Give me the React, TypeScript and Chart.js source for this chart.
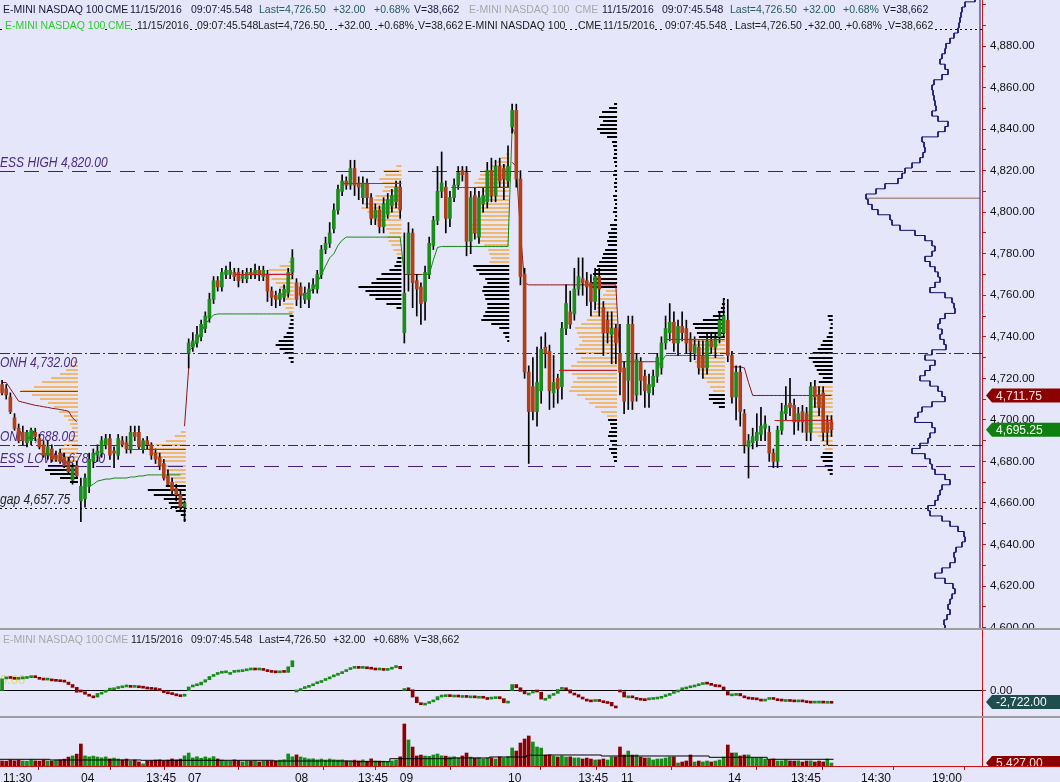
import React, { useEffect, useRef } from "react";
import { Chart, registerables } from "chart.js";

Chart.register(...registerables);

// ---------------- DATA ----------------
// candles per session: [open, high, low, close]
const day03 = [
  [4717, 4719, 4712, 4713], [4715, 4717, 4710, 4712], [4711, 4713, 4703, 4704], [4701, 4703, 4695, 4696],
  [4696, 4698, 4689, 4690], [4694, 4697, 4688, 4690], [4689, 4695, 4687, 4694], [4690, 4696, 4688, 4695],
  [4694, 4696, 4690, 4692], [4691, 4693, 4686, 4687], [4688, 4690, 4682, 4683], [4683, 4690, 4681, 4687],
  [4686, 4688, 4680, 4681], [4683, 4685, 4680, 4681], [4684, 4686, 4679, 4680], [4682, 4684, 4677, 4678],
  [4680, 4682, 4674, 4675], [4671, 4679, 4669, 4677], [4678, 4680, 4672, 4673],
];
const day04 = [
  [4661, 4672, 4651, 4668], [4662, 4674, 4658, 4672], [4668, 4684, 4665, 4681], [4680, 4686, 4677, 4684],
  [4683, 4688, 4680, 4685], [4684, 4692, 4682, 4690], [4688, 4693, 4686, 4691], [4691, 4693, 4681, 4683],
  [4685, 4687, 4677, 4684], [4683, 4693, 4681, 4691], [4690, 4692, 4687, 4688], [4689, 4692, 4684, 4686],
  [4686, 4697, 4684, 4694], [4694, 4697, 4690, 4692], [4694, 4697, 4686, 4687], [4686, 4691, 4684, 4690],
  [4690, 4692, 4686, 4688], [4688, 4689, 4681, 4683], [4684, 4686, 4679, 4681], [4682, 4684, 4676, 4678],
  [4679, 4681, 4671, 4672], [4673, 4676, 4668, 4669], [4670, 4672, 4664, 4666], [4667, 4669, 4661, 4664],
  [4664, 4666, 4656, 4658], [4658, 4661, 4651, 4660],
];
const day07 = [
  [4732, 4739, 4725, 4737], [4735, 4742, 4733, 4738], [4737, 4745, 4735, 4741], [4740, 4748, 4738, 4746],
  [4744, 4752, 4742, 4750], [4749, 4761, 4747, 4758], [4758, 4769, 4756, 4767], [4767, 4769, 4762, 4764],
  [4764, 4773, 4762, 4771], [4770, 4774, 4768, 4772], [4770, 4776, 4768, 4772], [4771, 4773, 4767, 4769],
  [4771, 4773, 4764, 4767], [4768, 4772, 4766, 4770], [4768, 4773, 4766, 4771], [4771, 4773, 4768, 4770],
  [4770, 4775, 4768, 4772], [4772, 4774, 4767, 4770], [4769, 4774, 4767, 4772], [4770, 4772, 4757, 4762],
  [4762, 4764, 4755, 4759], [4760, 4762, 4754, 4758], [4758, 4763, 4755, 4761], [4759, 4765, 4757, 4763],
  [4761, 4773, 4759, 4771], [4771, 4782, 4768, 4778],
];
const day08 = [
  [4766, 4768, 4755, 4758], [4764, 4766, 4754, 4760], [4758, 4764, 4756, 4761], [4758, 4766, 4754, 4763],
  [4763, 4768, 4761, 4765], [4763, 4772, 4761, 4770], [4770, 4784, 4768, 4782], [4782, 4788, 4780, 4785],
  [4785, 4795, 4783, 4790], [4792, 4804, 4790, 4801], [4801, 4813, 4799, 4811], [4810, 4818, 4808, 4815],
  [4815, 4817, 4811, 4813], [4813, 4825, 4811, 4821], [4821, 4825, 4808, 4813], [4814, 4817, 4806, 4812],
  [4807, 4817, 4804, 4814], [4814, 4816, 4802, 4807], [4807, 4809, 4794, 4797], [4797, 4804, 4794, 4801],
  [4801, 4803, 4790, 4793], [4793, 4807, 4790, 4804], [4799, 4809, 4797, 4806], [4803, 4811, 4800, 4808],
  [4805, 4815, 4802, 4812], [4812, 4815, 4797, 4801],
];
const day09 = [
  [4742, 4790, 4737, 4761], [4770, 4795, 4762, 4790], [4790, 4792, 4754, 4766], [4767, 4770, 4750, 4763],
  [4764, 4766, 4746, 4756], [4757, 4774, 4748, 4771], [4770, 4788, 4768, 4785], [4784, 4798, 4782, 4796],
  [4796, 4822, 4794, 4810], [4810, 4829, 4807, 4814], [4812, 4815, 4790, 4797], [4797, 4810, 4793, 4807],
  [4807, 4816, 4805, 4813], [4813, 4822, 4811, 4819], [4820, 4822, 4815, 4818], [4819, 4822, 4779, 4786],
  [4786, 4810, 4780, 4807], [4808, 4812, 4787, 4790], [4788, 4810, 4785, 4807], [4804, 4812, 4800, 4808],
  [4805, 4824, 4802, 4820], [4820, 4826, 4805, 4808], [4808, 4825, 4805, 4822], [4822, 4826, 4812, 4815],
  [4821, 4823, 4806, 4816], [4815, 4832, 4812, 4822],
];
const day10 = [
  [4841, 4852, 4838, 4849], [4849, 4852, 4812, 4816], [4816, 4820, 4765, 4769], [4770, 4773, 4720, 4723],
  [4723, 4726, 4679, 4704], [4716, 4730, 4700, 4704], [4704, 4735, 4697, 4718], [4714, 4740, 4708, 4734],
  [4735, 4742, 4725, 4732], [4733, 4736, 4705, 4714], [4713, 4731, 4706, 4718], [4720, 4722, 4708, 4715],
  [4716, 4747, 4710, 4744], [4744, 4765, 4741, 4756], [4752, 4762, 4744, 4746], [4751, 4773, 4748, 4763],
  [4763, 4778, 4760, 4769], [4768, 4778, 4760, 4766], [4767, 4771, 4755, 4764], [4766, 4770, 4750, 4757],
  [4757, 4773, 4753, 4769], [4769, 4773, 4750, 4763], [4754, 4757, 4731, 4742], [4748, 4752, 4737, 4742],
  [4741, 4752, 4727, 4744], [4744, 4746, 4727, 4737],
];
const day11 = [
  [4732, 4746, 4712, 4723], [4725, 4728, 4703, 4709], [4719, 4750, 4705, 4746], [4746, 4750, 4705, 4709],
  [4712, 4732, 4709, 4729], [4728, 4730, 4712, 4719], [4721, 4724, 4706, 4714], [4713, 4722, 4706, 4717],
  [4716, 4724, 4712, 4721], [4721, 4732, 4718, 4730], [4725, 4740, 4722, 4737], [4737, 4750, 4734, 4744],
  [4742, 4756, 4738, 4747], [4747, 4752, 4733, 4737], [4737, 4748, 4731, 4745], [4745, 4752, 4738, 4742],
  [4744, 4748, 4732, 4737], [4739, 4742, 4728, 4733], [4732, 4740, 4729, 4736], [4735, 4738, 4722, 4725],
  [4731, 4738, 4720, 4725], [4725, 4742, 4722, 4738], [4738, 4742, 4732, 4735], [4735, 4742, 4730, 4739],
  [4740, 4752, 4737, 4748], [4742, 4758, 4740, 4750],
];
const day14 = [
  [4748, 4758, 4728, 4731], [4731, 4733, 4708, 4711], [4711, 4726, 4700, 4723], [4723, 4726, 4697, 4704],
  [4703, 4705, 4684, 4688], [4687, 4693, 4672, 4690], [4689, 4696, 4686, 4692], [4690, 4703, 4687, 4694],
  [4693, 4706, 4690, 4697], [4696, 4702, 4690, 4698], [4694, 4697, 4680, 4684], [4684, 4686, 4677, 4680],
  [4680, 4697, 4677, 4695], [4695, 4708, 4693, 4704], [4703, 4716, 4700, 4707], [4708, 4720, 4702, 4706],
  [4707, 4710, 4693, 4699], [4699, 4706, 4695, 4703], [4704, 4707, 4694, 4699], [4703, 4706, 4690, 4694],
  [4694, 4718, 4690, 4716], [4716, 4719, 4706, 4711], [4712, 4716, 4702, 4706], [4713, 4716, 4690, 4694],
  [4699, 4702, 4688, 4694], [4699, 4702, 4692, 4695.25],
];

// red and green indicator lines per session (null = not drawn)
const red03 = [4718, 4718, 4715, 4712, 4709, 4708.5, 4708, 4707.5, 4707, 4706.7, 4706.3, 4706, 4705.6, 4705.3, 4705, 4704.6, 4704.2, 4701, 4699];
const red04 = [null, null, null, null, null, null, null, null, null, null, null, null, null, null, null, null, null, null, null, null, null, null, null, null, null, 4697];
const red07 = [4725, null, null, null, null, null, null, null, null, null, null, null, null, null, null, null, null, null, null, null, null, null, null, null, null, null];
const red08 = [null, null, null, null, null, null, null, null, null, null, null, null, null, null, null, null, null, null, null, null, null, null, null, null, null, null];
const red09 = [4770, 4770, 4770, 4770, 4770, null, null, null, null, null, null, null, null, null, null, null, null, null, null, null, null, null, null, null, null, null];
const red10 = [4824, 4822, 4790, 4766, 4765, 4765, 4765, 4765, 4765, 4765, 4765, 4765, 4765, 4765, 4765, 4765, 4765, 4765, 4765, 4765, 4765, 4765, 4765, 4765, 4765, 4765];
const red11 = [4728, 4728, 4728, 4728, 4728, 4728, 4728, 4728, 4728, 4728, null, null, null, null, null, null, null, null, null, null, null, null, null, null, null, null];
const red14 = [null, 4725.5, 4725.5, 4725.5, 4725, 4718, 4711.75, 4711.75, 4711.75, 4711.75, 4711.75, 4711.75, 4711.75, 4711.75, 4711.75, 4711.75, 4711.75, 4711.75, 4711.75, 4711.75, 4711.75, 4711.75, 4711.75, 4711.75, 4711.75, 4711.75];

const green03 = [null, null, null, null, null, null, null, null, null, null, null, null, null, null, null, null, null, null, null];
const green04 = [null, null, 4668, 4669, 4670.5, 4671, 4671.5, 4671.5, 4672, 4672, 4672, 4672, 4672.5, 4672.5, 4673, 4673, 4673.5, 4673.5, 4673.5, 4673.5, 4673.5, 4673.5, 4673.5, 4673.5, 4673.5, null];
const green07 = [4733, 4735, 4738, 4742, 4746, 4748.5, 4750.5, 4751, 4751, 4751, 4751, 4751, 4751, 4751, 4751, 4751, 4751, 4751, 4751, 4751, 4751, 4751, 4751, 4751, 4751, 4751];
const green08 = [null, 4760, 4760.5, 4761.5, 4763, 4766, 4770, 4774, 4778, 4780, 4784, 4786.5, 4788, 4788, 4788, 4788, 4788, 4788, 4788, 4788, 4788, 4788, 4788, 4788, 4788, 4788];
const green09 = [4770, 4770, 4770, 4770, 4770, 4770, 4770, 4777, 4783, 4783.5, 4783.5, 4783.5, 4783.5, 4783.5, 4783.5, 4783.5, 4783.5, 4783.5, 4783.5, 4783.5, 4783.5, 4783.5, 4783.5, 4783.5, 4783.5, 4783.5];
const green10 = [4841, 4836, null, null, null, null, null, null, null, null, null, null, null, null, null, null, null, null, null, null, null, null, null, null, null, null];
const green11 = [null, null, null, null, null, null, null, null, null, 4725.5, 4728, 4731, 4731, 4731, 4731, 4731, 4731, 4731, 4731, 4731, 4731, 4731, 4731, 4731, 4731, 4731];
const green14 = [null, null, null, null, null, null, null, null, null, null, null, null, null, null, null, null, null, null, null, null, null, null, null, null, null, null];

// cumulative delta (middle panel), per session closes
const osc03 = [3000, 3200, 3100, 2900, 3000, 3100, 3300, 3500, 3300, 2900, 2700, 2800, 2500, 2400, 2300, 2200, 1600, 900, -300];
const osc04 = [-200, -800, -1200, -1500, -600, -300, 200, 300, 600, 800, 1000, 1100, 900, 1000, 800, 700, 500, 400, 300, 100, -200, -400, -700, -900, -1100, -800];
const osc07 = [1000, 1300, 1500, 2200, 2800, 3600, 4100, 4400, 4500, 4600, 4600, 4700, 4800, 5000, 5200, 5300, 5200, 5300, 5100, 4800, 4600, 4500, 4700, 4600, 6000, 7500];
const osc08 = [100, 600, 900, 1300, 1800, 2100, 2600, 3000, 3500, 3900, 4300, 4800, 5300, 5600, 5700, 5600, 5800, 5500, 5400, 5200, 5300, 5100, 5400, 5800, 6100, 5500];
const osc09 = [600, 300, -1500, -2900, -3400, -3000, -2600, -2200, -1400, -1000, -900, -1100, -1000, -1200, -1100, -1300, -1200, -1400, -1300, -1600, -1700, -1500, -1400, -1900, -2900, -2500];
const osc10 = [1600, 800, -100, -700, -500, 0, -300, -2000, -1800, -1000, -600, 400, 600, 300, -500, -900, -1500, -2000, -2200, -2300, -2100, -2400, -2600, -2800, -3700, -4200];
const osc11 = [-200, -1500, -1200, -1600, -1800, -1900, -2000, -1700, -1600, -1500, -1300, -900, -600, 0, 300, 500, 800, 1000, 1300, 1600, 2000, 1700, 1400, 1100, 1000, 300];
const osc14 = [-1000, -700, -600, -1200, -1500, -1600, -1700, -2000, -2300, -2000, -1600, -1900, -2000, -2200, -2100, -2200, -2300, -2200, -2400, -2500, -2600, -2500, -2500, -2600, -2550, -2722];

// volume per bar
const vol03 = [9100, 8800, 10800, 9400, 10500, 9000, 8700, 11200, 9300, 8900, 10600, 9200, 8800, 10900, 11300, 12400, 16100, 18300, 21500];
const vol04 = [39800, 18300, 16600, 17900, 16200, 14800, 16400, 12900, 14300, 12700, 10900, 12600, 9200, 10800, 7400, 3900, 8900, 9300, 10800, 11200, 9100, 10700, 12800, 11100, 12500, 18400];
const vol07 = [23500, 14600, 16800, 14100, 16500, 14300, 16900, 12800, 10900, 9200, 8800, 11100, 9400, 7600, 9000, 8700, 9300, 7400, 8900, 9100, 8600, 9200, 10700, 11400, 21800, 16700];
const vol08 = [20100, 16400, 14700, 12800, 13100, 11200, 12600, 10900, 12700, 11300, 10800, 11100, 9200, 8900, 10600, 9300, 11000, 8800, 12900, 9400, 9000, 8700, 7600, 9100, 10800, 16600];
const vol09 = [76000, 47100, 34300, 18200, 19800, 18100, 17600, 19900, 21700, 18400, 17900, 16300, 16700, 14600, 18100, 23500, 16200, 14400, 14900, 12700, 14300, 14800, 12600, 16400, 14500, 16800];
const vol10 = [32600, 27100, 41600, 48800, 54300, 43400, 34400, 32500, 19900, 20100, 18100, 16300, 18400, 16200, 16600, 14500, 14700, 12700, 14400, 12600, 10900, 11200, 12700, 10800, 16300, 16500];
const vol11 = [34400, 19900, 27100, 19800, 20100, 16300, 14500, 14700, 10900, 12600, 12800, 14400, 16300, 16500, 5400, 7300, 9100, 19900, 7200, 9000, 7400, 9100, 7300, 8900, 10900, 16300];
const vol14 = [38000, 23500, 23700, 18100, 19900, 20000, 14500, 14400, 14700, 12600, 10900, 12800, 9000, 9200, 10800, 9100, 8900, 9300, 7200, 9000, 9200, 7300, 8900, 7400, 12700, 5427];

// volume moving-average steps: start bar and value
const volAvgStart = [0, 12, 34, 66, 85, 94, 109, 118, 127, 132, 145, 171, 185];
const volAvgValue = [12100, 10900, 10300, 9000, 7800, 13200, 14500, 16300, 19400, 19900, 18100, 15700, 12100];

// session volume profiles (2-point buckets from `low`)
const prof03 = [8, 18, 28, 33, 30, 26, 22, 20, 17, 14, 10, 7, 5, 6, 8, 10, 14, 19, 24, 30, 38, 46, 57, 44, 36, 27, 18, 12, 8, 4];
const prof04 = [2, 5, 10, 15, 17, 22, 32, 38, 20, 11, 15, 18, 21, 28, 26, 30, 35, 40, 30, 20, 11, 5];
const prof07 = [3, 5, 9, 14, 18, 15, 10, 7, 5, 4, 3, 4, 5, 8, 11, 9, 12, 11, 14, 18, 22, 28, 25, 14, 5];
const prof08 = [5, 15, 26, 32, 36, 43, 30, 25, 20, 12, 7, 5, 4, 5, 8, 10, 13, 14, 12, 15, 20, 26, 29, 34, 40, 37, 27, 26, 19, 17, 19, 22, 16, 18, 5];
const prof09 = [2, 4, 6, 10, 18, 28, 26, 24, 22, 22, 24, 25, 27, 26, 22, 24, 30, 33, 36, 20, 18, 20, 21, 25, 30, 33, 37, 40, 38, 35, 32, 28, 30, 29, 26, 24, 27, 32, 35, 31, 29, 25, 18, 12, 8, 3];
const prof10 = [3, 4, 6, 8, 5, 7, 9, 8, 6, 7, 9,
  10, 16, 22, 28, 32, 40, 48, 46, 44, 40, 45, 57, 46, 40, 36, 40, 42, 38, 35, 38, 40, 42, 36, 30, 27, 24, 20, 22, 18, 14, 11,
  25, 27, 24, 24, 22, 20, 18, 15, 14, 12, 9, 10, 8, 9, 6, 7,
  3, 2, 4, 3, 2, 3, 4, 2, 3, 3, 2, 4, 3, 2, 3, 4, 3,
  3, 4, 5, 10, 17, 20, 17, 14, 18, 15, 8, 3];
const prof11 = [6, 12, 16, 16, 12, 15, 18, 21, 24, 26, 28, 30, 26, 27, 31, 35, 36, 26, 28, 30, 32, 22, 12, 7, 4, 3, 2];
const prof14 = [3, 5, 8, 10, 12, 10, 8, 10, 12, 15, 20, 24, 27, 31, 28, 26, 23, 18, 22, 18, 20, 16, 14, 10, 14, 16, 18, 20, 24, 20, 15, 12, 10, 6, 4, 3, 2, 4, 5];
const profLow = [4670, 4652, 4728, 4754, 4738, 4680, 4706, 4674];
const profVaLow = [4680, 4670, 4752, 4780, 4776, 4702, 4714, 4686];
const profVaHigh = [4728, 4694, 4776, 4822, 4828, 4762, 4738, 4716];
const profPoc = [4714, 4686, 4770, 4814, 4812, 4724, 4739, 4700];

// composite profile at the right edge (2.5-point buckets from the top)
const compositeTop = 4902.5;
const compositeVols = [
  5, 15, 18, 19, 20, 21, 22, 26, 30, 34,
  35, 38, 40, 35, 32, 38, 46, 48, 47, 46,
  45, 44, 48, 42, 32, 35, 42, 58, 56, 55,
  57, 60, 68, 75, 78, 82, 95, 104, 114, 112,
  108, 102, 90, 88, 80, 65, 55, 48, 45, 48,
  55, 50, 45, 42, 40, 45, 50, 35, 28, 26,
  25, 35, 40, 42, 38, 40, 36, 34, 48, 55,
  45, 50, 55, 60, 50, 42, 38, 35, 48, 58,
  62, 65, 48, 45, 50, 52, 60, 68, 55, 50,
  48, 45, 35, 30, 38, 40, 42, 45, 52, 50,
  38, 30, 22, 16, 15, 18, 24, 26, 25, 30,
  38, 45, 35, 27, 25, 28, 30, 32, 30, 33,
  36, 35,
];
const compositePoc = 4806.75;

// horizontal reference levels
const levelNames = ["", "ESS HIGH 4,820.00", "ONH 4,732.00", "ONL 4,688.00", "ESS LOW 4,678.00", "gap 4,657.75"];
const levelPrices = [4888.25, 4820, 4732, 4688, 4678, 4657.75];

// x-axis ticks (bar-index positions) and labels
const xTickValues = [-0.5, 18.3, 34, 44.1, 69.9, 85.1, 95.2, 121.3, 138.2, 148.5, 174.3, 189.5, 206.4, 223.5];
const xTickLabels = ["11:30", "04", "13:45", "07", "08", "13:45", "09", "10", "13:45", "11", "14", "13:45", "14:30", "19:00"];

// ---------------- STYLE / LAYOUT ----------------
const W = 1060;
const AXIS_W = 78;
const BG = "#E6E6FA";
const FONT = '"Liberation Sans", Arial, sans-serif';
const X_MIN = -0.5;
const X_MAX = 236.3;
const MAIN_H = 628, MAIN_MIN = 4599.8, MAIN_MAX = 4902.15;
const OSC_TOP = 630, OSC_H = 86, OSC_MIN = -6190, OSC_MAX = 15100;
const VOL_TOP = 718, VOL_H = 64, VOL_MAX = 86830;
const AXIS_RED = "#D01010";
const C_UP = "#1C8C1C", C_DN = "#B0401A";
const C_UP2 = "#178C17", C_DN2 = "#8B0000";
const TAN = "#EFB86E";
const PROFILE_STEP = 2;
const PROFILE_BARS_PER_UNIT = 0.241;
const COMPOSITE_STEP = 2.5;
const LEVEL_STYLE = [
  { dash: [2, 3], color: "#000", text: "#000", dy: -4 },
  { dash: [15, 9], color: "#3F1F7A", text: "#4A2A86", dy: -5 },
  { dash: [10, 3, 2, 3], color: "#3F1F7A", text: "#4A2A86", dy: 13 },
  { dash: [10, 3, 2, 3], color: "#3F1F7A", text: "#4A2A86", dy: -5 },
  { dash: [15, 9], color: "#3F1F7A", text: "#4A2A86", dy: -4 },
  { dash: [2, 3], color: "#000", text: "#222", dy: -5 },
];

// ---------------- DERIVED ----------------
const sessions = [day03, day04, day07, day08, day09, day10, day11, day14];
const candles = sessions.flat();
const sessionEnds: number[] = [];
{
  let acc = 0;
  sessions.forEach((s) => { acc += s.length; sessionEnds.push(acc - 1); });
}
const redLine = [red03, red04, red07, red08, red09, red10, red11, red14].flat();
const greenLine = [green03, green04, green07, green08, green09, green10, green11, green14].flat();
const oscSessions = [osc03, osc04, osc07, osc08, osc09, osc10, osc11, osc14];
const volumes = [vol03, vol04, vol07, vol08, vol09, vol10, vol11, vol14].flat();
const profiles = [prof03, prof04, prof07, prof08, prof09, prof10, prof11, prof14];

const fmt = (v: number) => v.toLocaleString("en-US", { minimumFractionDigits: 2, maximumFractionDigits: 2 });

function drawBox(ctx: CanvasRenderingContext2D, x0: number, yc: number, text: string, fill: string, color: string) {
  const h = 14, tip = 6;
  ctx.save();
  ctx.fillStyle = fill;
  ctx.beginPath();
  ctx.moveTo(x0, yc);
  ctx.lineTo(x0 + tip, yc - h / 2);
  ctx.lineTo(W, yc - h / 2);
  ctx.lineTo(W, yc + h / 2);
  ctx.lineTo(x0 + tip, yc + h / 2);
  ctx.closePath();
  ctx.fill();
  ctx.fillStyle = color;
  ctx.font = `12px ${FONT}`;
  ctx.textBaseline = "middle";
  ctx.textAlign = "left";
  ctx.fillText(text, x0 + tip + 4, yc + 1);
  ctx.restore();
}

const baseOptions = {
  responsive: false,
  maintainAspectRatio: false,
  animation: false,
  events: [],
  layout: { padding: 0 },
  plugins: { legend: { display: false }, tooltip: { enabled: false } },
};

const hiddenX = { type: "linear", min: X_MIN, max: X_MAX, display: false, offset: false };

const fitY = (s: any) => { s.width = AXIS_W; s.paddingTop = 0; s.paddingBottom = 0; };

// ---------------- MAIN PANEL ----------------
function buildMain() {
  const outline: { x: number; y: number }[] = [];
  compositeVols.forEach((v, i) => {
    const p = compositeTop - i * COMPOSITE_STEP;
    outline.push({ x: v, y: p + COMPOSITE_STEP / 2 }, { x: v, y: p - COMPOSITE_STEP / 2 });
  });
  const pocLen = Math.max(...compositeVols);

  const plugin = {
    id: "mainDecor",
    beforeDatasetsDraw(chart: any) {
      const { ctx, chartArea: a, scales } = chart;
      const x = scales.x, y = scales.y;
      ctx.save();
      ctx.beginPath();
      ctx.rect(a.left, a.top, a.right - a.left, a.bottom - a.top);
      ctx.clip();
      profiles.forEach((vals, k) => {
        const anchor = sessionEnds[k] + 0.3;
        const xr = x.getPixelForValue(anchor);
        vals.forEach((v, i) => {
          const p = profLow[k] + i * PROFILE_STEP;
          const xl = x.getPixelForValue(anchor - v * PROFILE_BARS_PER_UNIT);
          const py = Math.round(y.getPixelForValue(p));
          ctx.fillStyle = p >= profVaLow[k] && p <= profVaHigh[k] ? TAN : "#000";
          ctx.fillRect(xl, py - 1, xr - xl, 2);
        });
      });
      levelPrices.forEach((p, k) => {
        const st = LEVEL_STYLE[k];
        const py = Math.round(y.getPixelForValue(p)) + 0.5;
        ctx.setLineDash(st.dash);
        ctx.strokeStyle = st.color;
        ctx.lineWidth = 1;
        ctx.beginPath();
        ctx.moveTo(a.left, py);
        ctx.lineTo(a.right, py);
        ctx.stroke();
        ctx.setLineDash([]);
        if (levelNames[k]) {
          ctx.save();
          ctx.font = `italic 14px ${FONT}`;
          ctx.fillStyle = st.text;
          ctx.textBaseline = "alphabetic";
          ctx.scale(0.86, 1);
          ctx.fillText(levelNames[k], 0, py + st.dy);
          ctx.restore();
        }
      });
      ctx.restore();
    },
    afterDatasetsDraw(chart: any) {
      const { ctx, chartArea: a, scales } = chart;
      const x = scales.x, y = scales.y;
      ctx.save();
      ctx.beginPath();
      ctx.rect(a.left, a.top, a.right - a.left, a.bottom - a.top);
      ctx.clip();
      ctx.strokeStyle = "#C8201E";
      ctx.lineWidth = 1;
      profPoc.forEach((p, k) => {
        const anchor = sessionEnds[k] + 0.3;
        const py = Math.round(y.getPixelForValue(p)) + 0.5;
        ctx.beginPath();
        ctx.moveTo(x.getPixelForValue(anchor - 14), py);
        ctx.lineTo(x.getPixelForValue(anchor), py);
        ctx.stroke();
      });
      ctx.restore();
    },
    afterDraw(chart: any) {
      const { ctx, chartArea: a, scales } = chart;
      const y = scales.y;
      const lastRed = redLine.filter((v) => v !== null).slice(-1)[0] as number;
      const lastClose = candles[candles.length - 1][3];
      drawBox(ctx, a.right + 4, y.getPixelForValue(lastRed), fmt(lastRed), "#8B0000", "#FFE4E4");
      drawBox(ctx, a.right + 4, y.getPixelForValue(lastClose), fmt(lastClose), "#0F7F0F", "#FFFFFF");
    },
  };

  return {
    type: "bar",
    data: {
      datasets: [
        {
          type: "line", data: redLine.map((v, i) => ({ x: i, y: v })), borderColor: "#8B1414", borderWidth: 1,
          pointRadius: 0, spanGaps: false, order: 5, xAxisID: "x", yAxisID: "y",
        },
        {
          type: "line", data: greenLine.map((v, i) => ({ x: i, y: v })), borderColor: "#118811", borderWidth: 1,
          pointRadius: 0, spanGaps: false, order: 5, xAxisID: "x", yAxisID: "y",
        },
        {
          type: "bar", data: candles.map((c, i) => ({ x: i, y: [c[2], c[1]] })), backgroundColor: "#000",
          barThickness: 1, grouped: false, order: 3, xAxisID: "x", yAxisID: "y",
        },
        {
          type: "bar", data: candles.map((c, i) => ({ x: i, y: [c[0], c[3]] })),
          backgroundColor: candles.map((c) => (c[3] >= c[0] ? C_UP : C_DN)),
          barThickness: 3, grouped: false, minBarLength: 1, order: 2, xAxisID: "x", yAxisID: "y",
        },
        {
          type: "line", data: outline, borderColor: "#101070", borderWidth: 1, pointRadius: 0, order: 4,
          xAxisID: "xp", yAxisID: "y",
        },
        {
          type: "line", data: [{ x: 0, y: MAIN_MIN }, { x: 0, y: MAIN_MAX }], borderColor: "#101070", borderWidth: 1,
          pointRadius: 0, order: 4, xAxisID: "xp", yAxisID: "y",
        },
        {
          type: "line", data: [{ x: 0, y: compositePoc }, { x: pocLen, y: compositePoc }], borderColor: "#A89088",
          borderWidth: 1.5, pointRadius: 0, order: 4, xAxisID: "xp", yAxisID: "y",
        },
      ],
    },
    options: {
      ...baseOptions,
      scales: {
        x: hiddenX,
        xp: { type: "linear", min: -2, max: 980, reverse: true, display: false, offset: false },
        y: {
          type: "linear", position: "right", min: MAIN_MIN, max: MAIN_MAX,
          afterFit: fitY,
          ticks: {
            stepSize: 10, includeBounds: false, autoSkip: false, padding: 4, color: "#111",
            font: { family: FONT, size: 11.5 },
            callback: (v: number) => (v % 20 === 0 && v <= 4880 ? fmt(v) : ""),
          },
          grid: { drawOnChartArea: false, drawTicks: true, tickLength: 4, color: AXIS_RED, tickColor: AXIS_RED },
          border: { color: AXIS_RED, width: 1 },
        },
      },
    },
    plugins: [plugin],
  };
}

// ---------------- OSCILLATOR PANEL ----------------
function buildOsc() {
  const data: { x: number; y: number[] }[] = [];
  const colors: string[] = [];
  let i = 0;
  oscSessions.forEach((s) => {
    s.forEach((v, j) => {
      const open = j === 0 ? 0 : s[j - 1];
      data.push({ x: i, y: [open, v] });
      colors.push(v >= open ? C_UP2 : C_DN2);
      i++;
    });
  });
  const lastOsc = oscSessions[oscSessions.length - 1].slice(-1)[0];
  const plugin = {
    id: "oscDecor",
    beforeDatasetsDraw(chart: any) {
      const { ctx, scales } = chart;
      ctx.save();
      ctx.font = `13px ${FONT}`;
      ctx.fillStyle = "#E2DC50";
      ctx.textBaseline = "middle";
      ctx.fillText("0.00", 0, scales.y.getPixelForValue(2700));
      ctx.restore();
    },
    afterDraw(chart: any) {
      const { ctx, chartArea: a, scales } = chart;
      drawBox(ctx, a.right + 4, scales.y.getPixelForValue(lastOsc), fmt(lastOsc), "#1F4E4E", "#FFFFFF");
    },
  };
  return {
    type: "bar",
    data: {
      datasets: [{ data, backgroundColor: colors, barThickness: 3, grouped: false, minBarLength: 2 }],
    },
    options: {
      ...baseOptions,
      scales: {
        x: hiddenX,
        y: {
          type: "linear", position: "right", min: OSC_MIN, max: OSC_MAX,
          afterFit: fitY,
          afterBuildTicks: (s: any) => { s.ticks = [{ value: 0 }]; },
          ticks: { padding: 4, color: "#111", font: { family: FONT, size: 11.5 }, callback: (v: number) => fmt(v) },
          grid: { drawOnChartArea: true, drawTicks: true, tickLength: 4, color: "#000", tickColor: AXIS_RED },
          border: { color: AXIS_RED, width: 1 },
        },
      },
    },
    plugins: [plugin],
  };
}

// ---------------- VOLUME PANEL ----------------
function buildVol() {
  const colors = volumes.map((_, i) => {
    const c = candles[i][3];
    const prev = i === 0 ? candles[0][0] : candles[i - 1][3];
    return c >= prev ? C_UP2 : C_DN2;
  });
  const avgPts = volAvgStart.map((s, k) => ({ x: s - 0.5, y: volAvgValue[k] }));
  avgPts.push({ x: volumes.length - 0.5, y: volAvgValue[volAvgValue.length - 1] });
  const lastVol = volumes[volumes.length - 1];
  const plugin = {
    id: "volDecor",
    afterDraw(chart: any) {
      const { ctx, chartArea: a, scales } = chart;
      ctx.save();
      ctx.beginPath();
      ctx.rect(0, 0, W, a.bottom);
      ctx.clip();
      drawBox(ctx, a.right + 4, scales.y.getPixelForValue(lastVol), fmt(lastVol), "#8B0000", "#FFE4E4");
      ctx.restore();
      ctx.save();
      ctx.strokeStyle = AXIS_RED;
      ctx.lineWidth = 1;
      ctx.beginPath();
      ctx.moveTo(a.right, Math.round(a.bottom) + 0.5);
      ctx.lineTo(W, Math.round(a.bottom) + 0.5);
      ctx.stroke();
      ctx.restore();
    },
  };
  return {
    type: "bar",
    data: {
      datasets: [
        {
          type: "line", data: avgPts, stepped: true, borderColor: "#000", borderWidth: 1, pointRadius: 0, order: 1,
        },
        {
          type: "bar", data: volumes.map((v, i) => ({ x: i, y: v })), backgroundColor: colors,
          barThickness: 3, grouped: false, order: 2,
        },
      ],
    },
    options: {
      ...baseOptions,
      scales: {
        x: {
          type: "linear", min: X_MIN, max: X_MAX, offset: false, position: "bottom",
          afterFit: (s: any) => { s.height = 16; s.paddingLeft = 0; s.paddingRight = 0; },
          afterBuildTicks: (s: any) => { s.ticks = xTickValues.map((v) => ({ value: v })); },
          ticks: {
            autoSkip: false, maxRotation: 0, minRotation: 0, align: "start", padding: 1, labelOffset: 3,
            color: "#111", font: { family: FONT, size: 12 },
            callback: (_v: number, i: number) => xTickLabels[i],
          },
          grid: { drawOnChartArea: false, drawTicks: true, tickLength: 4, color: AXIS_RED, tickColor: AXIS_RED },
          border: { color: AXIS_RED, width: 1 },
        },
        y: {
          type: "linear", position: "right", min: 0, max: VOL_MAX,
          afterFit: fitY,
          ticks: { display: false },
          grid: { display: false },
          border: { color: AXIS_RED, width: 1 },
        },
      },
    },
    plugins: [plugin],
  };
}

// ---------------- COMPONENTS ----------------
function ChartCanvas({ build, top, height }: { build: () => any; top: number; height: number }) {
  const ref = useRef<HTMLCanvasElement>(null);
  useEffect(() => {
    const chart = new Chart(ref.current as HTMLCanvasElement, build());
    return () => chart.destroy();
  }, []);
  return (
    <canvas ref={ref} width={W} height={height}
      style={{ position: "absolute", left: 0, top, width: W, height }} />
  );
}

const DK = "#16163A", TL = "#245C5C", GR = "#A8A8A8", GN = "#2ECC2E", BK = "#1A1A1A";
const header1: [number, string, string][] = [
  [3, "E-MINI NASDAQ 100", DK], [105, "CME", DK], [130, "11/15/2016", DK], [191, "09:07:45.548", DK],
  [259, "Last=4,726.50", TL], [333, "+32.00", TL], [374, "+0.68%", TL], [414, "V=38,662", DK],
  [469, "E-MINI NASDAQ 100", GR], [575, "CME", GR], [602, "11/15/2016", DK], [662, "09:07:45.548", DK],
  [730, "Last=4,726.50", TL], [803, "+32.00", TL], [843, "+0.68%", TL], [883, "V=38,662", DK],
];
const header2: [number, string, string][] = [
  [5, "E-MINI NASDAQ 100", GN], [108, "CME", GN], [137, "11/15/2016", BK], [197, "09:07:45.548", BK],
  [258, "Last=4,726.50", BK], [338, "+32.00", BK], [378, "+0.68%", BK], [418, "V=38,662", BK],
  [465, "E-MINI NASDAQ 100", BK], [578, "CME", BK], [603, "11/15/2016", BK], [665, "09:07:45.548", BK],
  [735, "Last=4,726.50", BK], [808, "+32.00", BK], [846, "+0.68%", BK], [888, "V=38,662", BK],
];
const header3: [number, string, string][] = [
  [3, "E-MINI NASDAQ 100", GR], [105, "CME", GR], [131, "11/15/2016", BK], [191, "09:07:45.548", BK],
  [259, "Last=4,726.50", BK], [333, "+32.00", BK], [373, "+0.68%", BK], [414, "V=38,662", BK],
];

function HeaderLine({ items, top }: { items: [number, string, string][]; top: number }) {
  return (
    <>
      {items.map(([x, t, c], i) => (
        <span key={i} style={{
          position: "absolute", left: x, top, font: `10.5px ${FONT}`, lineHeight: "13px", color: c,
          whiteSpace: "nowrap", background: BG,
        }}>{t}</span>
      ))}
    </>
  );
}

export default function App() {
  return (
    <div style={{ position: "fixed", left: 0, top: 0, width: W, height: 782, background: BG, overflow: "hidden" }}>
      <ChartCanvas build={buildMain} top={0} height={MAIN_H} />
      <div style={{ position: "absolute", left: 0, top: MAIN_H, width: W, height: 2, background: "#9E9E9E" }} />
      <ChartCanvas build={buildOsc} top={OSC_TOP} height={OSC_H} />
      <div style={{ position: "absolute", left: 0, top: OSC_TOP + OSC_H, width: W, height: 2, background: "#9E9E9E" }} />
      <ChartCanvas build={buildVol} top={VOL_TOP} height={VOL_H} />
      <HeaderLine items={header1} top={3} />
      <HeaderLine items={header2} top={19} />
      <HeaderLine items={header3} top={633} />
    </div>
  );
}
